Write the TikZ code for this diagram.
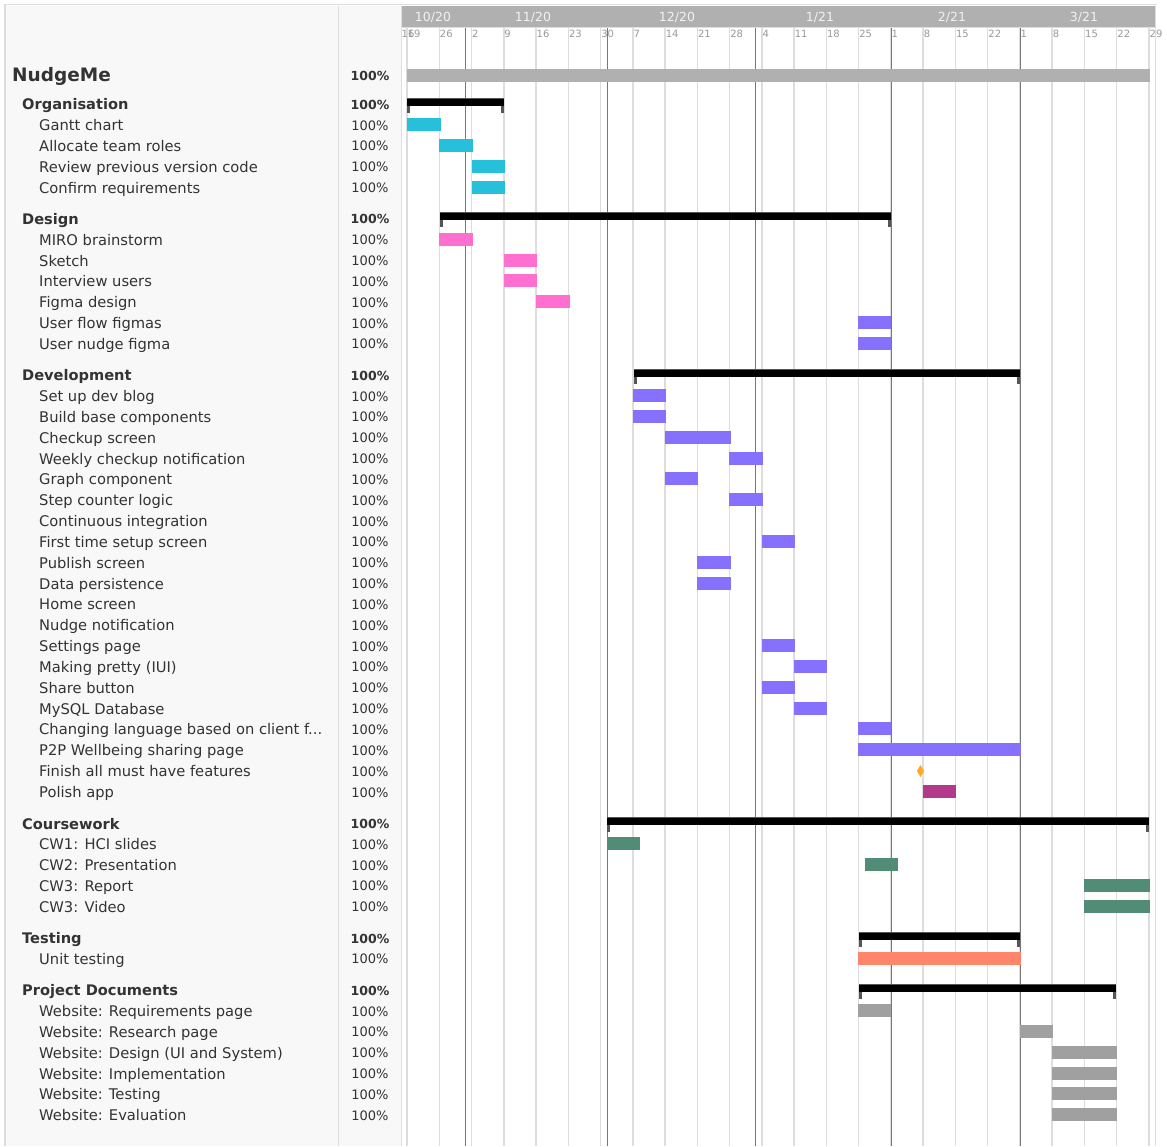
\documentclass[tikz,border=0pt]{standalone}
\usepackage{fontspec}
\setmainfont{DejaVu Sans}
\definecolor{txt}{HTML}{333333}
\definecolor{gridc}{HTML}{DDDDDD}
\definecolor{monc}{HTML}{777777}
\definecolor{panel}{HTML}{F8F8F8}
\definecolor{hdr}{HTML}{B0B0B0}
\definecolor{wkc}{HTML}{999999}
\definecolor{tickc}{HTML}{555555}
\definecolor{cyanb}{HTML}{26C0DA}
\definecolor{pinkb}{HTML}{FF6FCF}
\definecolor{purpb}{HTML}{8670FE}
\definecolor{greenb}{HTML}{508C76}
\definecolor{salmb}{HTML}{FF866A}
\definecolor{grayb}{HTML}{A0A0A0}
\definecolor{magb}{HTML}{B5398A}
\definecolor{orgb}{HTML}{FFA726}
\newcommand\grp[5]{%
  \node[grplabel, anchor=base west] (#1) at (22,#2+5.7) {#3};
  \node[pctb, anchor=base] (#1p) at (370,#2+5) {100\%};
  \fill[black] (#4,#2-6) rectangle (#5,#2+1.5);
  \draw[tickc, line width=0.7pt] (#4,#2-6) -- (#5,#2-6);
  \fill[tickc] (#4,#2+1.5) rectangle (#4+3,#2+8.5);
  \fill[tickc] (#5-3,#2+1.5) rectangle (#5,#2+8.5);
}
\newcommand\tsk[6]{%
  \node[tasklabel, anchor=base west] (#1) at (39,#2+5.5) {#3};
  \node[pct, anchor=base] (#1p) at (370,#2+5) {100\%};
  \fill[#6] (#4,#2-7) rectangle (#5,#2+6);
}
\newcommand\tskn[3]{%
  \node[tasklabel, anchor=base west] (#1) at (39,#2+5.5) {#3};
  \node[pct, anchor=base] (#1p) at (370,#2+5) {100\%};
}
\begin{document}
\begin{tikzpicture}[x=1pt,y=-1pt,
  tasklabel/.style={inner sep=0pt, text=txt, font=\fontsize{14.7}{16}\selectfont},
  grplabel/.style={inner sep=0pt, text=txt, font=\fontsize{14.6}{16}\selectfont\bfseries},
  pct/.style={inner sep=0pt, text=txt, font=\fontsize{13}{15}\selectfont},
  pctb/.style={inner sep=0pt, text=txt, font=\fontsize{12.5}{15}\selectfont\bfseries},
  gridln/.style={draw=gridc, line width=1.5pt},
  monthln/.style={draw=monc, line width=0.9pt},
  weeklbl/.style={inner sep=0pt, anchor=west, text=wkc, font=\fontsize{10}{11}\selectfont},
  monthlbl/.style={inner sep=0pt, text=white!95!black, font=\fontsize{12.5}{14}\selectfont}]
\useasboundingbox (0,0) rectangle (1167,1146);
\fill[white] (0,0) rectangle (1167,1146);
% panel
\fill[panel] (5,6) rectangle (401.5,1146);
\draw[gridc, line width=1.5pt] (4,4.7) -- (1157,4.7);
\draw[gridc, line width=1.2pt] (5,4) -- (5,1146);
\draw[gridc, line width=1pt] (338.5,6) -- (338.5,1146);
\draw[gridc, line width=1pt] (401.5,6) -- (401.5,1146);
\draw[gridc, line width=1pt] (1155.5,6) -- (1155.5,1146);
% header
\fill[hdr] (402,6) rectangle (1155,27);
\draw[gridc, line width=1pt] (402,27.5) -- (1155,27.5);
% weekly grid
\foreach \k in {0,...,23} {
  \draw[gridln] ({407+32.26*\k},28) -- ({407+32.26*\k},1146);
}
% month lines
\foreach \m in {465.3,607.3,755,891.3,1020.3} {
  \draw[monthln] (\m,28) -- (\m,1146);
}
% month labels
\node[monthlbl] (m1) at (433,17) {10/20};
\node[monthlbl] (m2) at (533,17) {11/20};
\node[monthlbl] (m3) at (677,17) {12/20};
\node[monthlbl] (m4) at (820,17) {1/21};
\node[monthlbl] (m5) at (952,17) {2/21};
\node[monthlbl] (m6) at (1084,17) {3/21};
% week labels
\node[weeklbl] (w0) at (401.5,34) {16};
\foreach \k/\l in {0/19,1/26,2/2,3/9,4/16,5/23,6/30,7/7,8/14,9/21,10/28,11/4,12/11,13/18,14/25,15/1,16/8,17/15,18/22,19/1,20/8,21/15,22/22,23/29} {
  \node[weeklbl] (wk\k) at ({407.5+32.26*\k},34) {\l};
}
% project row
\node[inner sep=0pt, anchor=base west, text=txt, font=\fontsize{18.5}{20}\selectfont\bfseries] (proj) at (12,81.5) {NudgeMe};
\node[pctb, anchor=base] (projp) at (370,80) {100\%};
\fill[hdr] (407,69) rectangle (1150,82);
% Organisation
\grp{org}{104}{Organisation}{407}{504}
\tsk{t1}{125}{Gantt chart}{407}{441}{cyanb}
\tsk{t2}{145.8}{Allocate team roles}{439}{473}{cyanb}
\tsk{t3}{166.7}{Review previous version code}{472}{505}{cyanb}
\tsk{t4}{187.5}{Confirm requirements}{472}{505}{cyanb}
% Design
\grp{des}{218.8}{Design}{440}{891}
\tsk{d1}{239.7}{MIRO brainstorm}{439}{473}{pinkb}
\tsk{d2}{260.5}{Sketch}{504}{537}{pinkb}
\tsk{d3}{281.4}{Interview users}{504}{537}{pinkb}
\tsk{d4}{302.2}{Figma design}{536}{570}{pinkb}
\tsk{d5}{323}{User flow figmas}{858}{891}{purpb}
\tsk{d6}{343.9}{User nudge figma}{858}{891}{purpb}
% Development
\grp{dev}{375.2}{Development}{634}{1020}
\tsk{v1}{396}{Set up dev blog}{633}{666}{purpb}
\tsk{v2}{416.8}{Build base components}{633}{666}{purpb}
\tsk{v3}{437.7}{Checkup screen}{665}{731}{purpb}
\tsk{v4}{458.5}{Weekly checkup notification}{729}{763}{purpb}
\tsk{v5}{479.4}{Graph component}{665}{698}{purpb}
\tsk{v6}{500.2}{Step counter logic}{729}{763}{purpb}
\tskn{v7}{521}{Continuous integration}
\tsk{v8}{541.9}{First time setup screen}{762}{795}{purpb}
\tsk{v9}{562.7}{Publish screen}{697}{731}{purpb}
\tsk{v10}{583.6}{Data persistence}{697}{731}{purpb}
\tskn{v11}{604.4}{Home screen}
\tskn{v12}{625.2}{Nudge notification}
\tsk{v13}{646.1}{Settings page}{762}{795}{purpb}
\tsk{v14}{666.9}{Making pretty (IUI)}{794}{827}{purpb}
\tsk{v15}{687.8}{Share button}{762}{795}{purpb}
\tsk{v16}{708.6}{MySQL Database}{794}{827}{purpb}
\tsk{v17}{729.4}{Changing language based on client f...}{858}{891}{purpb}
\tsk{v18}{750.3}{P2P Wellbeing sharing page}{858}{1021}{purpb}
\tskn{v19}{771.1}{Finish all must have features}
\fill[orgb] (917,771) -- (920.5,765) -- (924,771) -- (920.5,777) -- cycle;
\tsk{v20}{792}{Polish app}{923}{956}{magb}
% Coursework
\grp{cw}{823.3}{Coursework}{607}{1149}
\tsk{c1}{844.2}{CW1: HCI slides}{607}{640}{greenb}
\tsk{c2}{865}{CW2: Presentation}{865}{898}{greenb}
\tsk{c3}{885.9}{CW3: Report}{1084}{1150}{greenb}
\tsk{c4}{906.7}{CW3: Video}{1084}{1150}{greenb}
% Testing
\grp{tst}{938}{Testing}{859}{1020}
\tsk{u1}{958.9}{Unit testing}{858}{1021}{salmb}
% Project Documents
\grp{pd}{990.2}{Project Documents}{859}{1116}
\tsk{p1}{1011}{Website: Requirements page}{858}{891}{grayb}
\tsk{p2}{1031.9}{Website: Research page}{1020}{1053}{grayb}
\tsk{p3}{1052.7}{Website: Design (UI and System)}{1052}{1117}{grayb}
\tsk{p4}{1073.6}{Website: Implementation}{1052}{1117}{grayb}
\tsk{p5}{1094.4}{Website: Testing}{1052}{1117}{grayb}
\tsk{p6}{1115.2}{Website: Evaluation}{1052}{1117}{grayb}
\end{tikzpicture}
\end{document}
